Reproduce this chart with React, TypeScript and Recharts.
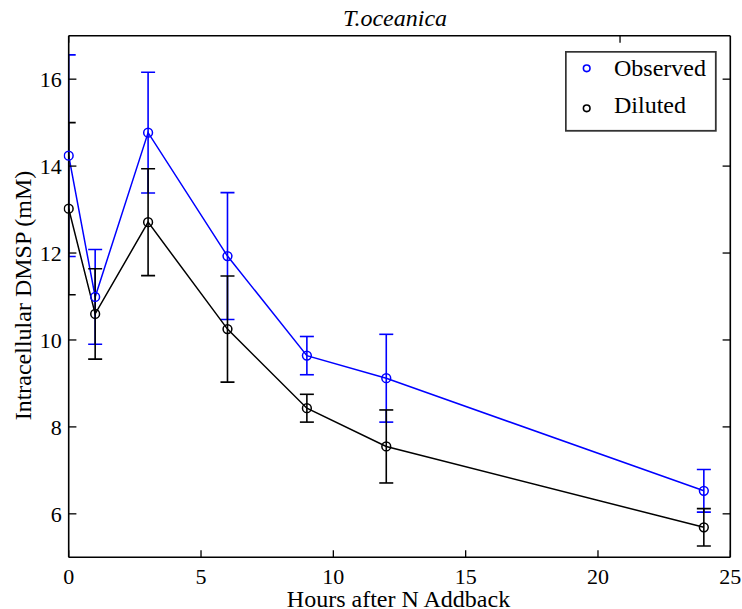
import { ComposedChart, Line, XAxis, YAxis, ErrorBar, Legend, Label } from 'recharts';

const FONT = "'Liberation Serif', 'Times New Roman', serif";

const hours = [0, 1, 3, 6, 9, 12, 24];
const observed = [14.24, 10.99, 14.77, 11.93, 9.64, 9.12, 6.53];
const observedErr = [2.32, 1.09, 1.39, 1.46, 0.44, 1.01, 0.49];
const diluted = [13.02, 10.6, 12.71, 10.25, 8.43, 7.55, 5.69];
const dilutedErr = [1.98, 1.04, 1.23, 1.22, 0.32, 0.84, 0.43];

const xTicks = [0, 5, 10, 15, 20, 25];
const yTicks = [6, 8, 10, 12, 14, 16];

const seriesNames = ['Observed', 'Diluted'];
const seriesColors = ['#0000ff', '#000000'];

const data = hours.map((h, i) => ({
  hours: h,
  observed: observed[i],
  observedErr: observedErr[i],
  diluted: diluted[i],
  dilutedErr: dilutedErr[i],
}));

const axisLine = { stroke: '#000', strokeWidth: 1.6 };
const tickLine = { stroke: '#000', strokeWidth: 1.3 };
const tickStyle = { fontSize: 22, fill: '#000', fontFamily: FONT };

// error bar caps get cut at the frame like the original
const PLOT = { left: 68.7, top: 35.7, width: 661.6, height: 521.6 };

function LegendBox() {
  return (
    <svg width={152} height={81} style={{ display: 'block' }}>
      <defs>
        <clipPath id="plotClip" clipPathUnits="userSpaceOnUse">
          <rect x={PLOT.left} y={PLOT.top} width={PLOT.width} height={PLOT.height} />
        </clipPath>
      </defs>
      <rect x={0.8} y={0.8} width={150} height={79} fill="#fff" stroke="#333" strokeWidth={1.8} />
      {seriesNames.map((name, i) => (
        <g key={name}>
          <circle cx={21.7} cy={17.3 + i * 40} r={3.3} fill="none" stroke={seriesColors[i]} strokeWidth={1.6} />
          <text x={49} y={25 + i * 37.3} fontSize={24} fontFamily={FONT} fill="#000">
            {name}
          </text>
        </g>
      ))}
    </svg>
  );
}

export default function App() {
  return (
    <div style={{ position: 'absolute', left: 0, top: 0 }}>
      <ComposedChart width={742} height={609} data={data} margin={{ top: 0, right: 0, bottom: 0, left: 0 }}>
        <XAxis
          dataKey="hours"
          type="number"
          domain={[0, 25]}
          ticks={xTicks}
          interval={0}
          allowDataOverflow
          height={51.7}
          tickSize={-7}
          tickMargin={18}
          axisLine={axisLine}
          tickLine={tickLine}
          tick={tickStyle}
        >
          <Label
            content={() => (
              <text x={398.5} y={606.7} textAnchor="middle" fontSize={24} fontFamily={FONT} fill="#000">
                Hours after N Addback
              </text>
            )}
          />
        </XAxis>
        <XAxis
          xAxisId="top"
          orientation="top"
          type="number"
          domain={[0, 25]}
          ticks={xTicks}
          interval={0}
          allowDataOverflow
          height={35.7}
          tickSize={-7}
          axisLine={axisLine}
          tickLine={tickLine}
          tickFormatter={() => ''}
        >
          <Label
            content={() => (
              <text x={395} y={26} textAnchor="middle" fontSize={24} fontStyle="italic" fontFamily={FONT} fill="#000">
                T.oceanica
              </text>
            )}
          />
        </XAxis>
        <YAxis
          type="number"
          domain={[5, 17]}
          ticks={yTicks}
          interval={0}
          allowDataOverflow
          width={68.7}
          tickSize={-7.7}
          tickMargin={14.7}
          axisLine={axisLine}
          tickLine={tickLine}
          tick={tickStyle}
        >
          <Label
            content={() => (
              <text
                x={30.5}
                y={295.5}
                transform="rotate(-90 30.5 295.5)"
                textAnchor="middle"
                fontSize={24}
                fontFamily={FONT}
                fill="#000"
              >
                Intracellular DMSP (mM)
              </text>
            )}
          />
        </YAxis>
        <YAxis
          yAxisId="right"
          orientation="right"
          type="number"
          domain={[5, 17]}
          ticks={yTicks}
          interval={0}
          allowDataOverflow
          width={11.7}
          tickSize={-7.7}
          axisLine={axisLine}
          tickLine={tickLine}
          tickFormatter={() => ''}
        />
        <Line
          type="linear"
          dataKey="observed"
          name="Observed"
          stroke={seriesColors[0]}
          strokeWidth={1.5}
          dot={{ r: 4.4, stroke: seriesColors[0], strokeWidth: 1.5, fill: 'none', clipDot: false }}
          activeDot={false}
          isAnimationActive={false}
        >
          <ErrorBar
            dataKey="observedErr"
            direction="y"
            width={7}
            stroke={seriesColors[0]}
            strokeWidth={1.6}
            clipPath="url(#plotClip)"
            isAnimationActive={false}
          />
        </Line>
        <Line
          type="linear"
          dataKey="diluted"
          name="Diluted"
          stroke={seriesColors[1]}
          strokeWidth={1.5}
          dot={{ r: 4.4, stroke: seriesColors[1], strokeWidth: 1.5, fill: 'none', clipDot: false }}
          activeDot={false}
          isAnimationActive={false}
        >
          <ErrorBar
            dataKey="dilutedErr"
            direction="y"
            width={7}
            stroke={seriesColors[1]}
            strokeWidth={1.6}
            clipPath="url(#plotClip)"
            isAnimationActive={false}
          />
        </Line>
        <Legend
          layout="horizontal"
          verticalAlign="middle"
          align="center"
          wrapperStyle={{ left: 565, top: 51, width: 152, height: 81 }}
          content={() => <LegendBox />}
        />
      </ComposedChart>
    </div>
  );
}
